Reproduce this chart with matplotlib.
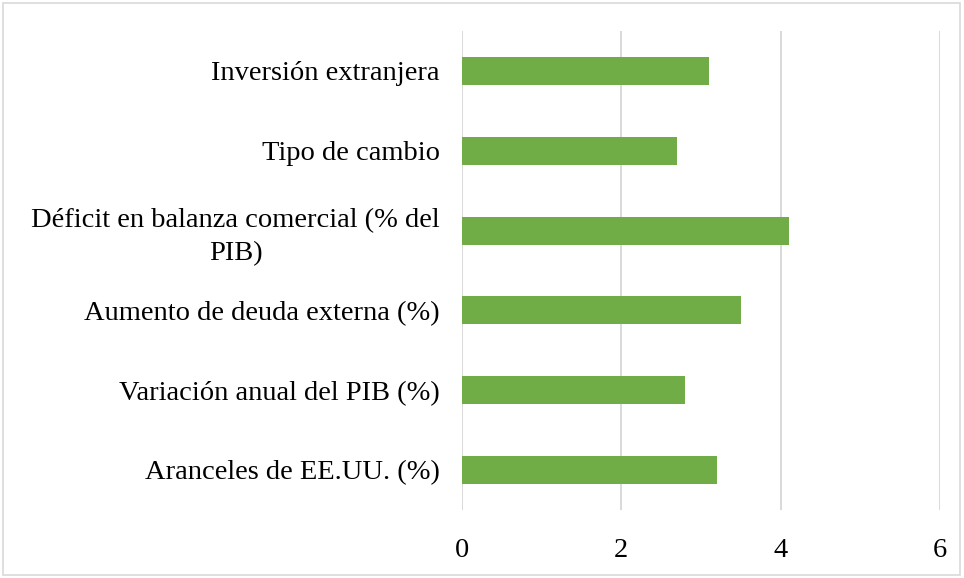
import matplotlib
matplotlib.use("Agg")
import matplotlib.pyplot as plt
from matplotlib.patches import Rectangle

categories = ["Aranceles de EE.UU. (%)",
              "Variación anual del PIB (%)",
              "Aumento de deuda externa (%)",
              "Déficit en balanza comercial (% del\nPIB)",
              "Tipo de cambio",
              "Inversión extranjera"]
values = [3.2, 2.8, 3.5, 4.1, 2.7, 3.1]
xticks = [0, 2, 4, 6]

plt.rcParams['font.family'] = ['Liberation Serif', 'DejaVu Serif']

fig = plt.figure(figsize=(9.64, 5.78), dpi=100)
ax = fig.add_axes([462/964, 1-510/578, (940-462)/964, (510-31)/578])

ypos = list(range(len(categories)))
ax.barh(ypos, values, height=0.35, color="#70AD47", zorder=3)
ax.set_xlim(0, 6)
ax.set_ylim(-0.5, len(categories)-0.5)
ax.set_xticks(xticks)
ax.set_xticklabels([str(t) for t in xticks], fontsize=20.5, color="#000000")
ax.set_yticks(ypos)
ax.set_yticklabels(categories, fontsize=20.5, color="#000000", multialignment="center",
                   linespacing=1.4)
ax.tick_params(axis="y", length=0, pad=16)
ax.tick_params(axis="x", length=0, pad=20)
ax.grid(axis="x", color="#d9d9d9", linewidth=1.4, zorder=0)
for s in ax.spines.values():
    s.set_visible(False)

fig.patches.append(Rectangle((3/964, 3/578), 957/964, 572/578, transform=fig.transFigure,
                             fill=False, edgecolor="#d9d9d9", linewidth=1.2))

fig.savefig("out.png", dpi=100)
